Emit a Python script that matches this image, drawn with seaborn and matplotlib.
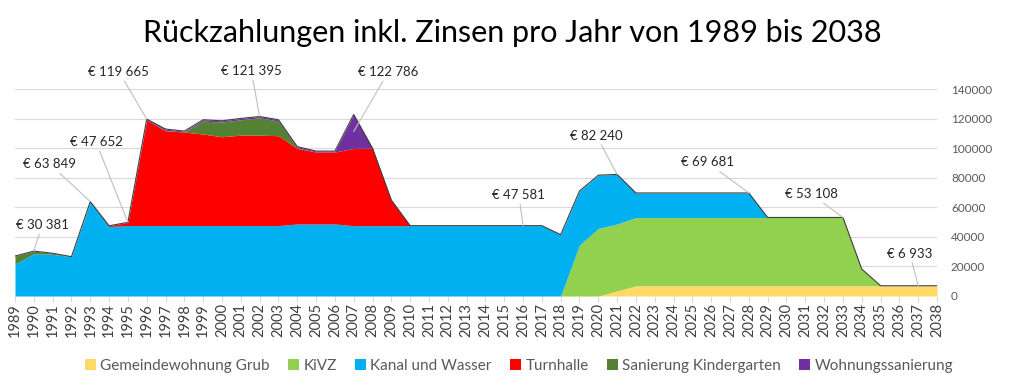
import numpy as np
import matplotlib
matplotlib.use("Agg")
import matplotlib.pyplot as plt
import seaborn as sns

years = list(range(1989, 2039))

grub = [0] * 32 + [3500] + [6933] * 17
kivz = [0] * 30 + [34500, 45700, 45200] + [46175] * 12 + [11300] + [0] * 4
kanal = ([21600, 28581, 28200, 26600, 63849, 47000] + [47652] * 9
         + [48700] * 3 + [47581] * 11 + [41500, 36500, 36000, 33540]
         + [16573] * 7 + [0] * 10)
turnhalle = ([0] * 5 + [500, 2150, 71313, 64150, 63250, 61850, 60050, 61150,
             61150, 60750, 51100, 48700, 48700, 52200, 52400, 17300] + [0] * 29)
kindergarten = ([5400, 1800, 700] + [0] * 5 + [300, 0, 8800, 9900, 10400, 11693,
                9900, 300] + [0] * 34)
wohnung = ([0] * 7 + [700, 800, 600, 900, 900, 900, 900, 900, 900, 600, 600, 23005]
           + [0] * 31)

series = ["Gemeindewohnung Grub", "KiVZ", "Kanal und Wasser", "Turnhalle",
          "Sanierung Kindergarten", "Wohnungssanierung"]
colors = ["#FFD966", "#92D050", "#00B0F0", "#FF0000", "#548235", "#7030A0"]

# labels: (year, text, offset in points, point at middle of top segment?)
labels = [
    (1990, "€ 30 381", (6, 19), False),
    (1993, "€ 63 849", (-29, 27), False),
    (1995, "€ 47 652", (-23, 58), False),
    (1996, "€ 119 665", (-20, 34), False),
    (2002, "€ 121 395", (-6, 33), False),
    (2007, "€ 122 786", (25, 43), True),
    (2016, "€ 47 581", (-3, 22), False),
    (2021, "€ 82 240", (-15, 28), False),
    (2028, "€ 69 681", (-30, 22), False),
    (2033, "€ 53 108", (-23, 17), False),
    (2037, "€ 6 933", (-6, 23), False),
]

sns.set_theme(style="white")
plt.rcParams["font.family"] = ["Lato", "DejaVu Sans"]

data = np.array([grub, kivz, kanal, turnhalle, kindergarten, wohnung])
total = data.sum(axis=0)

fig = plt.figure(figsize=(10.24, 3.92), dpi=100)
ax = fig.add_axes([15 / 1024, 1 - 296 / 392, (937 - 15) / 1024, (296 - 89) / 392])

polys = ax.stackplot(years, data, colors=colors, linewidth=0)
sns.lineplot(x=years, y=total, color="#404040", linewidth=0.8, ax=ax, legend=False)

ax.set_xlim(1989, 2038)
ax.set_ylim(0, 140000)
ax.set_yticks(range(0, 140001, 20000))
ax.yaxis.tick_right()
ax.grid(axis="y", color="#d9d9d9", linewidth=0.8)
ax.set_axisbelow(True)
for s in ax.spines.values():
    s.set_visible(False)
ax.tick_params(axis="y", length=0, pad=10, labelsize=8.5, labelcolor="#595959")
ax.set_xticks(years)
ax.set_xticklabels([str(y) for y in years], rotation=90)
ax.tick_params(axis="x", bottom=True, length=4, width=0.8, color="#d9d9d9",
               pad=1, labelsize=10.5, labelcolor="#404040")

cum = data.cumsum(axis=0)
for yr, txt, off, mid in labels:
    i = years.index(yr)
    yv = (cum[-1][i] + cum[-2][i]) / 2 if mid else total[i]
    ax.annotate(txt, xy=(yr, yv), xytext=off, textcoords="offset points",
                ha="center", va="center", fontsize=9.5, color="#262626",
                annotation_clip=False,
                arrowprops=dict(arrowstyle="-", color="#bfbfbf", lw=0.8,
                                shrinkA=0, shrinkB=0))

fig.text(0.5, 1 - 33 / 392, "Rückzahlungen inkl. Zinsen pro Jahr von 1989 bis 2038",
         ha="center", va="center", fontsize=22, color="black")

fig.legend(handles=polys, labels=series, loc="center", ncol=6,
           bbox_to_anchor=(519 / 1024, 1 - 366 / 392), frameon=False,
           fontsize=11, labelcolor="#595959", handlelength=0.7,
           handleheight=0.7, handletextpad=0.3, columnspacing=1.2)

fig.savefig("out.png", dpi=100)
